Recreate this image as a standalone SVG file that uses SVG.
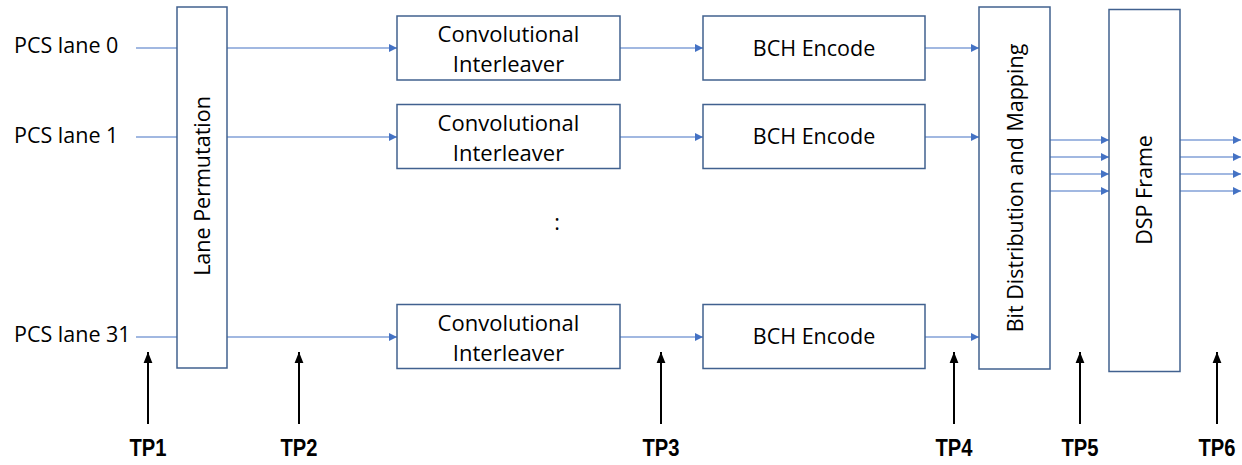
<svg xmlns="http://www.w3.org/2000/svg" width="1242" height="465" viewBox="0 0 1242 465">
  <style>
    .box { fill: #ffffff; stroke: #41618f; stroke-width: 1.5; }
    .lbl { font-family: "Open Sans", "Noto Sans", sans-serif; font-size: 21.5px; fill: #000000; }
    .lbl2 { font-family: "Open Sans", "Noto Sans", sans-serif; font-size: 22px; fill: #000000; text-anchor: middle; }
    .mid { text-anchor: middle; }
    .wire { stroke: #4472c4; stroke-width: 1.2; fill: none; }
    .wire-a { stroke: #4472c4; stroke-width: 1.2; fill: none; marker-end: url(#blueHead); }
    .probe { stroke: #000000; stroke-width: 2; fill: none; marker-end: url(#blackHead); }
    .tp { font-family: "Liberation Sans", Arial, sans-serif; font-size: 23.5px; font-weight: bold; fill: #000000; text-anchor: middle; }
  </style>
  <defs>
    <marker id="blueHead" viewBox="0 0 10 10" refX="10" refY="5" markerWidth="8" markerHeight="8" markerUnits="userSpaceOnUse" orient="auto">
      <path d="M0,0 L10,5 L0,10 Z" fill="#4472c4"/>
    </marker>
    <marker id="blackHead" viewBox="0 0 10 10" refX="10" refY="5" markerWidth="11" markerHeight="11" markerUnits="userSpaceOnUse" orient="auto">
      <path d="M0,1 L10,5 L0,9 Z" fill="#000000"/>
    </marker>
  </defs>

  <rect width="1242" height="465" fill="#ffffff"/>

  <!-- lane labels -->
  <g id="lane-labels">
    <text class="lbl" x="14" y="53">PCS lane 0</text>
    <text class="lbl" x="14" y="143">PCS lane 1</text>
    <text class="lbl" x="14" y="342">PCS lane 31</text>
  </g>

  <!-- connectors -->
  <g id="connectors">
    <!-- inputs into lane permutation -->
    <line class="wire" x1="136" y1="48" x2="177" y2="48"/>
    <line class="wire" x1="136" y1="137" x2="177" y2="137"/>
    <line class="wire" x1="136" y1="337" x2="177" y2="337"/>
    <!-- lane permutation to interleavers -->
    <line class="wire-a" x1="227" y1="48" x2="397" y2="48"/>
    <line class="wire-a" x1="227" y1="137" x2="397" y2="137"/>
    <line class="wire-a" x1="227" y1="337" x2="397" y2="337"/>
    <!-- interleavers to BCH encoders -->
    <line class="wire-a" x1="620" y1="48" x2="703" y2="48"/>
    <line class="wire-a" x1="620" y1="137" x2="703" y2="137"/>
    <line class="wire-a" x1="620" y1="337" x2="703" y2="337"/>
    <!-- BCH encoders to bit distribution -->
    <line class="wire-a" x1="925" y1="48" x2="979" y2="48"/>
    <line class="wire-a" x1="925" y1="137" x2="979" y2="137"/>
    <line class="wire-a" x1="925" y1="337" x2="979" y2="337"/>
    <!-- bit distribution to DSP frame -->
    <line class="wire-a" x1="1050" y1="140" x2="1109" y2="140"/>
    <line class="wire-a" x1="1050" y1="157" x2="1109" y2="157"/>
    <line class="wire-a" x1="1050" y1="174" x2="1109" y2="174"/>
    <line class="wire-a" x1="1050" y1="191" x2="1109" y2="191"/>
    <!-- DSP frame outputs -->
    <line class="wire-a" x1="1180" y1="140" x2="1241" y2="140"/>
    <line class="wire-a" x1="1180" y1="157" x2="1241" y2="157"/>
    <line class="wire-a" x1="1180" y1="174" x2="1241" y2="174"/>
    <line class="wire-a" x1="1180" y1="191" x2="1241" y2="191"/>
  </g>

  <g id="lane-permutation">
    <rect class="box" x="177" y="7" width="50" height="361"/>
    <text class="lbl mid" transform="translate(210,186) rotate(-90)">Lane Permutation</text>
  </g>

  <g id="interleaver-0">
    <rect class="box" x="397" y="16" width="223" height="64"/>
    <text class="lbl2" x="508.5" y="42">Convolutional</text>
    <text class="lbl2" x="508.5" y="72">Interleaver</text>
  </g>
  <g id="interleaver-1">
    <rect class="box" x="397" y="104.5" width="223" height="64"/>
    <text class="lbl2" x="508.5" y="130.5">Convolutional</text>
    <text class="lbl2" x="508.5" y="160.5">Interleaver</text>
  </g>
  <g id="interleaver-31">
    <rect class="box" x="397" y="304.5" width="223" height="64"/>
    <text class="lbl2" x="508.5" y="330.5">Convolutional</text>
    <text class="lbl2" x="508.5" y="360.5">Interleaver</text>
  </g>

  <g id="ellipsis">
    <text class="lbl mid" x="557" y="230">:</text>
  </g>

  <g id="bch-0">
    <rect class="box" x="703" y="16" width="222" height="64"/>
    <text class="lbl mid" x="814" y="55.5">BCH Encode</text>
  </g>
  <g id="bch-1">
    <rect class="box" x="703" y="104.5" width="222" height="64"/>
    <text class="lbl mid" x="814" y="144">BCH Encode</text>
  </g>
  <g id="bch-31">
    <rect class="box" x="703" y="304.5" width="222" height="64"/>
    <text class="lbl mid" x="814" y="344">BCH Encode</text>
  </g>

  <g id="bit-distribution">
    <rect class="box" x="979" y="7" width="71" height="362"/>
    <text class="lbl mid" transform="translate(1023,188) rotate(-90)">Bit Distribution and Mapping</text>
  </g>

  <g id="dsp-frame">
    <rect class="box" x="1109" y="9.5" width="71" height="362"/>
    <text class="lbl mid" transform="translate(1152,190) rotate(-90)">DSP Frame</text>
  </g>

  <!-- test points -->
  <g id="test-points">
    <line class="probe" x1="148" y1="424" x2="148" y2="352"/>
    <line class="probe" x1="299" y1="424" x2="299" y2="352"/>
    <line class="probe" x1="661" y1="424" x2="661" y2="352"/>
    <line class="probe" x1="954" y1="424" x2="954" y2="352"/>
    <line class="probe" x1="1080" y1="424" x2="1080" y2="352"/>
    <line class="probe" x1="1217" y1="424" x2="1217" y2="352"/>
    <text class="tp" x="148" y="456" textLength="37" lengthAdjust="spacingAndGlyphs">TP1</text>
    <text class="tp" x="299" y="456" textLength="37" lengthAdjust="spacingAndGlyphs">TP2</text>
    <text class="tp" x="661" y="456" textLength="37" lengthAdjust="spacingAndGlyphs">TP3</text>
    <text class="tp" x="954" y="456" textLength="37" lengthAdjust="spacingAndGlyphs">TP4</text>
    <text class="tp" x="1080" y="456" textLength="37" lengthAdjust="spacingAndGlyphs">TP5</text>
    <text class="tp" x="1217" y="456" textLength="37" lengthAdjust="spacingAndGlyphs">TP6</text>
  </g>
</svg>
